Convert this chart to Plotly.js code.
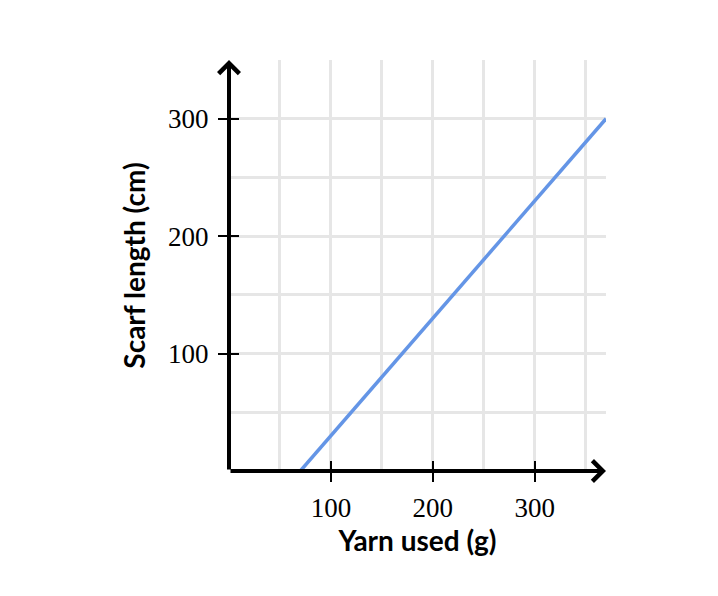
<!DOCTYPE html>
<html>
<head>
<meta charset="utf-8">
<script src="https://cdn.plot.ly/plotly-3.0.1.min.js"></script>
<style>html,body{margin:0;padding:0;background:#fff;}#chart{width:718px;height:596px;}</style>
</head>
<body>
<div id="chart"></div>
<script>
// Data
const yarnUsed = [70, 370];        // grams
const scarfLength = [0, 300];      // cm
const xTickVals = [100, 200, 300];
const yTickVals = [100, 200, 300];
const xRange = [0, 370];
const yRange = [0, 350];

const tickFont = {family: 'Liberation Serif, DejaVu Serif, serif', size: 27, color: '#000'};
const titleFont = {family: 'Lato, sans-serif', size: 28, color: '#000', weight: 'bold'};
const gridColor = '#e6e6e6';

const traces = [
  {x: yarnUsed, y: scarfLength, type: 'scatter', mode: 'lines',
   line: {color: '#6495e6', width: 3.5}, hoverinfo: 'skip', showlegend: false},
  {x: [], y: [], xaxis: 'x2', yaxis: 'y2', type: 'scatter', mode: 'lines', showlegend: false}
];

const layout = {
  width: 718, height: 596,
  margin: {l: 229, r: 112, t: 60, b: 125},
  paper_bgcolor: '#fff', plot_bgcolor: '#fff',
  showlegend: false,
  xaxis: {
    range: xRange, tickvals: xTickVals, ticks: 'outside', ticklen: 10, tickwidth: 2, tickcolor: '#000',
    showgrid: true, gridcolor: gridColor, gridwidth: 3,
    minor: {dtick: 50, tick0: 0, showgrid: true, gridcolor: gridColor, gridwidth: 3},
    zeroline: false, showline: false, tickfont: tickFont, ticklabelstandoff: 3,
    title: {text: 'Yarn used (g)', font: titleFont, standoff: 0}, fixedrange: true
  },
  yaxis: {
    range: yRange, tickvals: yTickVals, ticks: 'outside', ticklen: 10, tickwidth: 2, tickcolor: '#000',
    showgrid: true, gridcolor: gridColor, gridwidth: 3,
    minor: {dtick: 50, tick0: 0, showgrid: true, gridcolor: gridColor, gridwidth: 3},
    zeroline: false, showline: false, tickfont: tickFont, ticklabelstandoff: 4,
    title: {text: 'Scarf length (cm)', font: titleFont, standoff: 14}, fixedrange: true
  },
  xaxis2: {overlaying: 'x', anchor: 'y2', range: xRange, tickvals: xTickVals, ticks: 'inside',
    ticklen: 10, tickwidth: 2, tickcolor: '#000', showticklabels: false, showgrid: false, zeroline: false},
  yaxis2: {overlaying: 'y', anchor: 'x2', range: yRange, tickvals: yTickVals, ticks: 'inside',
    ticklen: 10, tickwidth: 2, tickcolor: '#000', showticklabels: false, showgrid: false, zeroline: false},
  annotations: [
    {x: xRange[1], y: 0, ax: xRange[0], ay: 0, xref: 'x', yref: 'y', axref: 'x', ayref: 'y',
     text: '', showarrow: true, arrowhead: 4, arrowsize: 1, arrowwidth: 4, arrowcolor: '#000', standoff: 0},
    {x: 0, y: yRange[1], ax: 0, ay: yRange[0], xref: 'x', yref: 'y', axref: 'x', ayref: 'y',
     text: '', showarrow: true, arrowhead: 4, arrowsize: 1, arrowwidth: 4, arrowcolor: '#000', standoff: 0}
  ]
};

Plotly.newPlot('chart', traces, layout, {staticPlot: true, displayModeBar: false});
</script>
</body>
</html>
